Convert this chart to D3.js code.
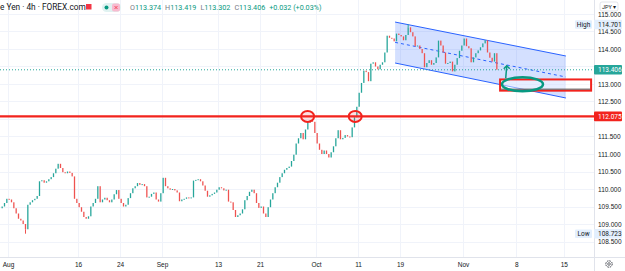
<!DOCTYPE html>
<html lang="en">
<head>
<meta charset="UTF-8">
<title>USD/JPY 4h</title>
<script src="https://cdnjs.cloudflare.com/ajax/libs/d3/7.8.5/d3.min.js"></script>
<style>
  body { margin: 0; background: #fff; }
  svg { display: block; font-family: Roboto, "Liberation Sans", sans-serif; }
  .axis text { fill: #131722; font-size: 6.5px; }
</style>
</head>
<body>
<svg id="chart" width="625" height="271"></svg>
<script>
// 4h closes, 3 bars per trading day (Jul 30 .. Nov 5)
const closes = [
  109.50, 109.60, 109.72,  109.70, 109.62, 109.45,  109.30, 109.15, 109.10,
  109.00, 108.85, 109.55,  109.62, 109.68, 109.72,  109.80, 110.22, 110.25,
  110.18, 110.22, 110.28,  110.34, 110.45, 110.58,  110.72, 110.60, 110.48,
  110.45, 110.50, 110.46,  110.36, 109.72, 109.60,  109.48, 109.35, 109.20,
  109.15, 109.22, 109.50,  109.60, 109.72, 110.08,  109.62, 109.70, 109.75,
  109.68, 109.62, 109.70,  109.85, 109.97, 109.72,  109.60, 109.50, 109.55,
  109.74, 109.88, 110.02,  110.08, 110.17, 110.12,  110.14, 110.08, 109.76,
  109.78, 109.86, 109.90,  109.70, 109.64, 109.88,  110.32, 110.08, 110.02,
  109.98, 110.00, 109.96,  109.90, 109.65, 109.70,  109.72, 109.76, 109.74,
  109.76, 110.24, 110.26,  110.28, 110.22, 110.10,  109.95, 109.78, 109.82,
  109.86, 109.90, 109.98,  110.05, 110.02, 109.96,  109.98, 109.64, 109.62,
  109.40, 109.20, 109.25,  109.30, 109.42, 109.68,  109.80, 109.92, 109.98,
  109.88, 109.60, 109.46,  109.50, 109.30, 109.20,  109.48, 109.70, 109.88,
  110.05, 110.18, 110.34,  110.45, 110.55, 110.60,  110.64, 110.80, 110.98,
  111.30, 111.45, 111.60,  111.42, 111.70, 111.90,  111.96, 111.92, 111.60,
  111.30, 111.12, 111.00,  111.10, 111.00, 110.90,  111.05, 111.22, 111.45,
  111.68, 111.42, 111.46,  111.54, 111.50, 111.48,  111.76, 112.05, 112.35,
  112.75, 113.03, 113.38,  113.34, 113.08, 113.58,  113.62, 113.50, 113.42,
  113.55, 113.62, 113.90,  114.38, 114.32, 114.30,  114.22, 114.44, 114.40,
  114.36, 114.25, 114.40,  114.62, 114.48, 114.36,  114.08, 114.10, 114.00,
  113.88, 113.48, 113.60,  113.68, 113.55, 113.60,  113.76, 114.24, 114.10,
  113.90, 113.58, 113.60,  113.64, 113.36, 113.55,  113.74, 113.95, 114.10,
  114.30, 114.08, 114.02,  113.62, 113.76, 113.88,  113.96, 114.05, 114.16,
  114.25, 113.90, 113.75,  113.64, 113.88, 113.41
];
const firstOpen = 109.45;
const barsPerDay = 3;
const extremes = [{ bar: 10, low: 108.723 }, { bar: 174, high: 114.701 }];

const priceTicks = [108.5, 109, 109.5, 110, 110.5, 111, 111.5, 112, 112.5, 113, 113.5, 114, 114.5, 115];
const dayTicks = [1, 11, 17, 23, 31, 37, 45, 51, 57, 66, 73.6, 80.4];
const dayLabels = ["Aug", "16", "24", "Sep", "13", "21", "Oct", "11", "19", "Nov", "8", "15"];

const ohlc = [["O", 113.374], ["H", 113.419], ["L", 113.302], ["C", 113.406]];
const changeText = "+0.032 (+0.03%)";
const lastPrice = 113.406;
const levelPrice = 112.075;
const highPrice = 114.701;
const lowPrice = 108.723;

// drawings: [day, price]
const channelUpper = [[56.3, 114.77], [80.7, 113.80]];
const channelLower = [[56.3, 113.60], [80.7, 112.60]];
const channelMid = [[56.3, 114.19], [80.7, 113.20]];
const levelCircles = [43.8, 50.6];
const targetEllipse = [74.5, 112.99];
const targetBox = [[71.3, 113.13], [84.3, 112.81]];
const arrowPath = [[72.1, 113.16], [72.25, 113.52]];

const W = 625, H = 271, plotW = 594, plotH = 257;
const svg = d3.select("#chart");
const x = d3.scaleLinear().domain([0, 84]).range([1, 589]);
const y = d3.scaleLinear().domain([108.5, 115]).range([241.5, 14]);

svg.append("defs").append("clipPath").attr("id", "plot")
  .append("rect").attr("width", plotW).attr("height", plotH);

// grid
const grid = svg.append("g").attr("stroke", "#f0f3fa").attr("stroke-width", 1);
grid.selectAll(".v").data(dayTicks).join("line")
  .attr("x1", d => Math.round(x(d)) + 0.5).attr("x2", d => Math.round(x(d)) + 0.5)
  .attr("y1", 0).attr("y2", plotH);
grid.selectAll(".h").data(priceTicks).join("line")
  .attr("x1", 0).attr("x2", plotW)
  .attr("y1", d => Math.round(y(d)) + 0.5).attr("y2", d => Math.round(y(d)) + 0.5);

const plot = svg.append("g").attr("clip-path", "url(#plot)");

// channel
const line = d3.line().x(d => x(d[0])).y(d => y(d[1]));
plot.append("path")
  .attr("d", line(channelUpper.concat(channelLower.slice().reverse())) + "Z")
  .attr("fill", "rgba(41,98,255,0.2)");
plot.append("path").attr("d", line(channelUpper)).attr("stroke", "#2962ff").attr("stroke-width", 1).attr("fill", "none");
plot.append("path").attr("d", line(channelLower)).attr("stroke", "#2962ff").attr("stroke-width", 1).attr("fill", "none");
plot.append("path").attr("d", line(channelMid)).attr("stroke", "#2962ff").attr("stroke-width", 1)
  .attr("stroke-dasharray", "3,3").attr("fill", "none");

// current price dotted line
plot.append("line").attr("x1", 0).attr("x2", plotW)
  .attr("y1", y(lastPrice)).attr("y2", y(lastPrice))
  .attr("stroke", "#26a69a").attr("stroke-width", 1).attr("stroke-dasharray", "1,2");

// candles
const step = x(1 / barsPerDay) - x(0);
const bw = Math.max(1, step * 0.55);
const bars = closes.map((c, i) => {
  const o = i === 0 ? firstOpen : closes[i - 1];
  return { i, o, c, up: c >= o };
});
const cx = i => x((i + 0.5) / barsPerDay);
plot.append("g").selectAll("line").data(extremes).join("line")
  .attr("x1", d => cx(d.bar)).attr("x2", d => cx(d.bar))
  .attr("y1", d => y(d.high !== undefined ? d.high : Math.min(bars[d.bar].o, bars[d.bar].c)))
  .attr("y2", d => y(d.low !== undefined ? d.low : Math.max(bars[d.bar].o, bars[d.bar].c)))
  .attr("stroke", d => bars[d.bar].up ? "#26a69a" : "#ef5350").attr("stroke-width", 1);
plot.append("g").selectAll("rect").data(bars).join("rect")
  .attr("x", d => cx(d.i) - bw / 2)
  .attr("width", bw)
  .attr("y", d => y(Math.max(d.o, d.c)))
  .attr("height", d => Math.max(1, y(Math.min(d.o, d.c)) - y(Math.max(d.o, d.c))))
  .attr("fill", d => d.up ? "#26a69a" : "#ef5350");

// horizontal level + circles
plot.append("line").attr("x1", 0).attr("x2", plotW)
  .attr("y1", y(levelPrice)).attr("y2", y(levelPrice))
  .attr("stroke", "#f2231d").attr("stroke-width", 2.2);
plot.selectAll(".circ").data(levelCircles).join("ellipse")
  .attr("cx", d => x(d)).attr("cy", y(levelPrice)).attr("rx", 6.5).attr("ry", 5.5)
  .attr("fill", "rgba(242,54,69,0.15)").attr("stroke", "#f2231d").attr("stroke-width", 2);

// target box
plot.append("rect")
  .attr("x", x(targetBox[0][0])).attr("y", y(targetBox[0][1]))
  .attr("width", x(targetBox[1][0]) - x(targetBox[0][0]))
  .attr("height", y(targetBox[1][1]) - y(targetBox[0][1]))
  .attr("fill", "rgba(255,255,255,0.45)").attr("stroke", "#f2231d").attr("stroke-width", 2);
plot.append("line")
  .attr("x1", x(targetBox[0][0]) + 1).attr("x2", x(targetBox[1][0]) - 1)
  .attr("y1", y(targetBox[1][1]) - 1.5).attr("y2", y(targetBox[1][1]) - 1.5)
  .attr("stroke", "#555").attr("stroke-width", 1);

// ellipse + arrow
plot.append("ellipse")
  .attr("cx", x(targetEllipse[0])).attr("cy", y(targetEllipse[1])).attr("rx", 20.5).attr("ry", 7)
  .attr("fill", "none").attr("stroke", "#089981").attr("stroke-width", 2.5);
const a1 = arrowPath[1];
plot.append("path").attr("d", line(arrowPath)).attr("stroke", "#089981").attr("stroke-width", 1.5).attr("fill", "none");
plot.append("path")
  .attr("d", `M${x(a1[0]) - 3},${y(a1[1]) + 3} L${x(a1[0])},${y(a1[1])} L${x(a1[0]) + 3},${y(a1[1]) + 3}`)
  .attr("stroke", "#089981").attr("stroke-width", 1.5).attr("fill", "none");

// axes frames
svg.append("line").attr("x1", plotW + 0.5).attr("x2", plotW + 0.5).attr("y1", 0).attr("y2", H)
  .attr("stroke", "#e0e3eb");
svg.append("line").attr("x1", 0).attr("x2", W).attr("y1", plotH + 0.5).attr("y2", plotH + 0.5)
  .attr("stroke", "#e0e3eb");

// tick labels that sit under a price tag are hidden, as on the reference
const tagged = [lastPrice, levelPrice];
const fmt = d3.format(".3f");
const yAxis = svg.append("g").attr("class", "axis")
  .attr("transform", `translate(${plotW},0)`)
  .call(d3.axisRight(y).tickValues(priceTicks)
    .tickFormat(d => tagged.some(t => Math.abs(y(t) - y(d)) < 6) ? "" : fmt(d))
    .tickSize(0).tickPadding(4));
yAxis.select(".domain").remove();

const xAxis = svg.append("g").attr("class", "axis")
  .attr("transform", `translate(0,${plotH + 5})`)
  .call(d3.axisBottom(x).tickValues(dayTicks).tickFormat((d, i) => dayLabels[i]).tickSize(0).tickPadding(0));
xAxis.select(".domain").remove();

// price labels on axis
function priceTag(p, bg, fg) {
  const g = svg.append("g").attr("transform", `translate(${plotW},${y(p)})`);
  g.append("rect").attr("x", 0).attr("y", -4.8).attr("width", 28).attr("height", 9.6).attr("rx", 1).attr("fill", bg);
  g.append("text").attr("x", 4).attr("dy", "0.33em").attr("font-size", 6.5).attr("fill", fg).text(p.toFixed(3));
  return g;
}
function extremeTag(p, label) {
  priceTag(p, "#e3effd", "#131722");
  const g = svg.append("g").attr("transform", `translate(${plotW - 19},${y(p)})`);
  g.append("rect").attr("x", 0).attr("y", -4.3).attr("width", 17).attr("height", 8.6).attr("rx", 1).attr("fill", "#e3effd");
  g.append("text").attr("x", 8.5).attr("dy", "0.33em").attr("text-anchor", "middle")
    .attr("font-size", 6.5).attr("fill", "#131722").text(label);
}
extremeTag(highPrice, "High");
extremeTag(lowPrice, "Low");
priceTag(lastPrice, "#26a69a", "#fff");
priceTag(levelPrice, "#f2231d", "#fff");

// currency button
const cur = svg.append("g").attr("transform", "translate(600,2)");
cur.append("rect").attr("width", 18).attr("height", 9).attr("rx", 2)
  .attr("fill", "#fff").attr("stroke", "#d1d4dc").attr("stroke-width", 0.6);
cur.append("text").attr("x", 9).attr("y", 6.5).attr("text-anchor", "middle")
  .attr("font-size", 5.5).attr("fill", "#131722").text("JPY ▾");

// gear icon
const gear = svg.append("g").attr("transform", `translate(609,${plotH + 7})`);
gear.append("circle").attr("r", 3.2).attr("fill", "none").attr("stroke", "#131722").attr("stroke-width", 0.8)
  .attr("stroke-dasharray", "1.6,0.9");
gear.append("circle").attr("r", 1.3).attr("fill", "none").attr("stroke", "#131722").attr("stroke-width", 0.6);

// legend header
svg.append("text").attr("x", 0).attr("y", 10).attr("font-size", 8.3).attr("fill", "#131722")
  .text("e Yen · 4h · FOREX.com");
svg.append("rect").attr("x", 86).attr("y", 4).attr("width", 5.5).attr("height", 5.5).attr("fill", "#f23645");
svg.append("rect").attr("x", 102).attr("y", 3).attr("width", 19).attr("height", 9).attr("rx", 4.5).attr("fill", "#e0f2f1");
svg.append("circle").attr("cx", 106.5).attr("cy", 7.5).attr("r", 2).attr("fill", "#089981");
svg.append("rect").attr("x", 112).attr("y", 3.5).attr("width", 8).attr("height", 8).attr("rx", 2).attr("fill", "#f8bbd0");
svg.append("path").attr("d", "M114.5,6 L117.5,9 M117.5,6 L114.5,9").attr("stroke", "#f23645").attr("stroke-width", 0.8);

const lg = svg.append("text").attr("x", 130).attr("y", 10).attr("font-size", 7.2);
ohlc.forEach(([k, v], i) => {
  lg.append("tspan").attr("fill", "#787b86").attr("dx", i ? 4 : 0).text(k);
  lg.append("tspan").attr("fill", "#089981").text(v.toFixed(3));
});
lg.append("tspan").attr("fill", "#089981").attr("dx", 4).text(changeText);
</script>
</body>
</html>
